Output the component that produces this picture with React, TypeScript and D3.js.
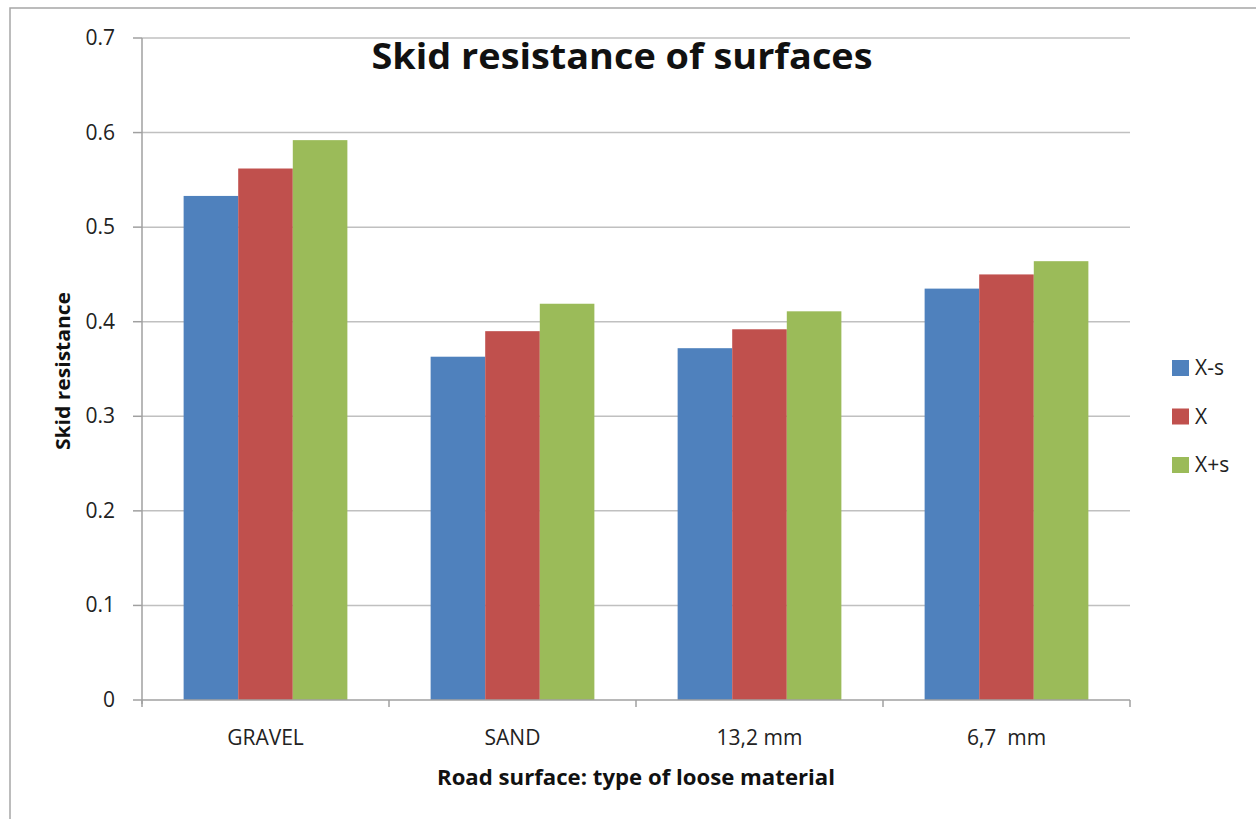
import React from "react";
import * as d3 from "d3";

const categories = ["GRAVEL", "SAND", "13,2 mm", "6,7  mm"];
const seriesNames = ["X-s", "X", "X+s"];
const seriesColors = ["#4F81BD", "#C0504D", "#9BBB59"];
const valuesXminus = [0.533, 0.363, 0.372, 0.435];
const valuesX = [0.562, 0.39, 0.392, 0.45];
const valuesXplus = [0.592, 0.419, 0.411, 0.464];
const yTicks = [0, 0.1, 0.2, 0.3, 0.4, 0.5, 0.6, 0.7];

const W = 1256;
const H = 819;
const left = 142;
const right = 1130;
const top = 38;
const bottom = 700;

export default function App() {
  const series = [valuesXminus, valuesX, valuesXplus];
  const x = d3.scaleBand<string>().domain(categories).range([left, right]).paddingInner(0.337).paddingOuter(0.1685);
  const xs = d3.scaleBand<string>().domain(seriesNames).range([0, x.bandwidth()]);
  const y = d3.scaleLinear().domain([0, 0.7]).range([bottom, top]);
  const step = (right - left) / categories.length;
  const font = "'Open Sans', 'Liberation Sans', sans-serif";

  return (
    <svg width={W} height={H} style={{ position: "absolute", left: 0, top: 0, background: "#fff" }}>
      <rect x={10} y={8} width={W} height={H} fill="#fff" stroke="#a6a6a6" strokeWidth={1.5} />
      {yTicks.map((t) => (
        <g key={t}>
          {t > 0 && (
            <line x1={left} x2={right} y1={y(t)} y2={y(t)} stroke="#c0c0c0" strokeWidth={1.5} />
          )}
          <line x1={133} x2={left} y1={y(t)} y2={y(t)} stroke="#a0a0a0" strokeWidth={1.5} />
          <text x={115} y={y(t) + 7} textAnchor="end" fontFamily={font} fontSize={21} fill="#222">
            {t === 0 ? "0" : t.toFixed(1)}
          </text>
        </g>
      ))}
      {categories.map((c, i) =>
        series.map((vals, s) => (
          <rect
            key={c + s}
            x={(x(c) as number) + (xs(seriesNames[s]) as number)}
            y={y(vals[i])}
            width={xs.bandwidth()}
            height={y(0) - y(vals[i])}
            fill={seriesColors[s]}
          />
        ))
      )}
      <line x1={left} x2={left} y1={top} y2={bottom + 4} stroke="#a0a0a0" strokeWidth={1.5} />
      <line x1={left} x2={right} y1={bottom} y2={bottom} stroke="#a0a0a0" strokeWidth={1.5} />
      {d3.range(categories.length + 1).map((i) => (
        <line key={i} x1={left + i * step} x2={left + i * step} y1={bottom} y2={bottom + 7} stroke="#a0a0a0" strokeWidth={1.5} />
      ))}
      {categories.map((c) => (
        <text key={c} x={(x(c) as number) + x.bandwidth() / 2} y={745} textAnchor="middle" fontFamily={font} fontSize={21} fill="#222" style={{ whiteSpace: "pre" }}>
          {c}
        </text>
      ))}
      <text x={622} y={69} textAnchor="middle" fontFamily={font} fontWeight="bold" fontSize={36} fill="#111" textLength={501} lengthAdjust="spacingAndGlyphs">
        Skid resistance of surfaces
      </text>
      <text x={636} y={785} textAnchor="middle" fontFamily={font} fontWeight="bold" fontSize={21} fill="#111" textLength={398} lengthAdjust="spacingAndGlyphs">
        Road surface: type of loose material
      </text>
      <text transform={`translate(70,371) rotate(-90)`} textAnchor="middle" fontFamily={font} fontWeight="bold" fontSize={20} fill="#111" textLength={158} lengthAdjust="spacingAndGlyphs">
        Skid resistance
      </text>
      {seriesNames.map((n, i) => (
        <g key={n} transform={`translate(1172,${360 + i * 48.5})`}>
          <rect x={0} y={0} width={17} height={16} fill={seriesColors[i]} />
          <text x={23} y={15} fontFamily={font} fontSize={21} fill="#222">
            {n}
          </text>
        </g>
      ))}
    </svg>
  );
}
